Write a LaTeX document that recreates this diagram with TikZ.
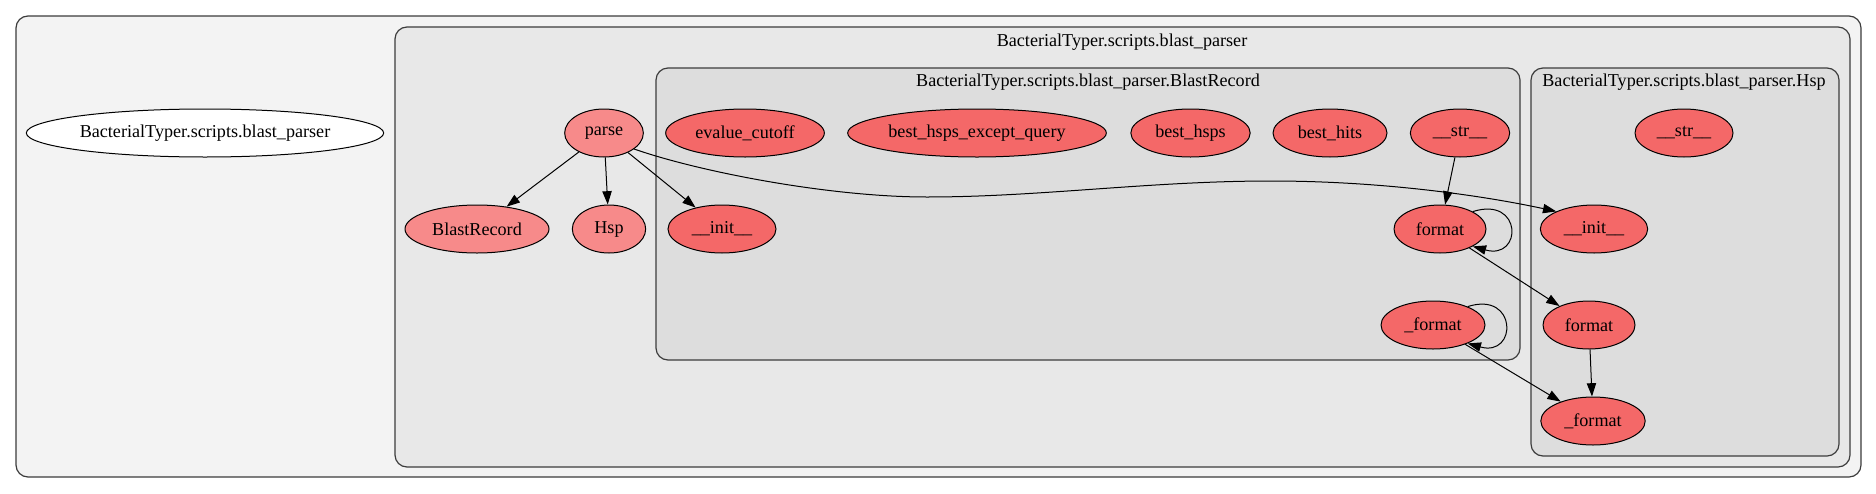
\documentclass[tikz,border=0pt]{standalone}
\usepackage{fontspec}
\setmainfont{Liberation Serif}
\usetikzlibrary{shapes.geometric,arrows.meta}

\definecolor{clouter}{HTML}{F3F3F3}
\definecolor{clmid}{HTML}{E8E8E8}
\definecolor{clinner}{HTML}{DDDDDD}
\definecolor{clline}{HTML}{3C3C3C}
\definecolor{fnred}{HTML}{F46868}
\definecolor{fnlight}{HTML}{F78A8A}

\begin{document}
\begin{tikzpicture}[
    x=0.75pt, y=-0.75pt,
    fn/.style={ellipse, draw, fill=#1, minimum height=36pt, inner sep=0pt, font=\fontsize{13.6}{16}\selectfont, line width=0.75pt},
    fn/.default=fnred,
    cluster/.style={draw=clline, fill=#1, rounded corners=9pt, line width=0.9pt},
    clbl/.style={font=\fontsize{13.6}{16}\selectfont, inner sep=0pt},
    edge/.style={-{Triangle[length=10pt, width=7pt]}, line width=0.75pt}
]
    \useasboundingbox (0,0) rectangle (1876,493);

    % Clusters
    \draw[cluster=clouter] (16,16) rectangle (1861,477);
    \draw[cluster=clmid] (395,27) rectangle (1850,467);
    \draw[cluster=clinner] (656,68) rectangle (1520,360);
    \draw[cluster=clinner] (1531,68) rectangle (1839,456);

    \node[clbl] (lmid) at (1122,42) {BacterialTyper.scripts.blast\_parser};
    \node[clbl] (lrec) at (1088,82) {BacterialTyper.scripts.blast\_parser.BlastRecord};
    \node[clbl] (lhsp) at (1684,82) {BacterialTyper.scripts.blast\_parser.Hsp};

    % Module
    \node[fn=white, minimum width=268pt] (root) at (205,133) {BacterialTyper.scripts.blast\_parser};
    \node[fn=fnlight, minimum width=59pt] (parse) at (604,133) {parse};
    \node[fn=fnlight, minimum width=108pt] (brec) at (477,229) {BlastRecord};
    \node[fn=fnlight, minimum width=55pt] (hsp) at (609,229) {Hsp};

    % BlastRecord
    \node[fn, minimum width=119pt] (bevalue) at (745,133) {evalue\_cutoff};
    \node[fn, minimum width=194pt] (bexcept) at (977,133) {best\_hsps\_except\_query};
    \node[fn, minimum width=89.5pt] (bhsps) at (1190.5,133) {best\_hsps};
    \node[fn, minimum width=85.5pt] (bhits) at (1330,133) {best\_hits};
    \node[fn, minimum width=74.5pt] (bstr) at (1460,133) {\_\_str\_\_};
    \node[fn, minimum width=81pt] (binit) at (722,229) {\_\_init\_\_};
    \node[fn, minimum width=69pt] (bfmt) at (1440,229) {format};
    \node[fn, minimum width=78pt] (bpfmt) at (1433,325) {\_format};

    % Hsp
    \node[fn, minimum width=73.5pt] (hstr) at (1684,133) {\_\_str\_\_};
    \node[fn, minimum width=80.5pt] (hinit) at (1594,229) {\_\_init\_\_};
    \node[fn, minimum width=69pt] (hfmt) at (1589,325) {format};
    \node[fn, minimum width=78.3pt] (hpfmt) at (1593,421) {\_format};

    % Calls
    \draw[edge] (parse) -- (brec);
    \draw[edge] (parse) -- (hsp);
    \draw[edge] (parse) -- (binit);
    \draw[edge] (parse.-28) .. controls (700,172) and (830,197) .. (927,197)
        .. controls (1040,197) and (1150,181) .. (1271,181)
        .. controls (1380,181) and (1480,195) .. (hinit.155);
    \draw[edge] (bstr) -- (bfmt);
    \draw[edge] (bfmt.28) .. controls +(50,-16) and +(50,14) .. (bfmt.-28);
    \draw[edge] (bfmt) -- (hfmt);
    \draw[edge] (bpfmt.28) .. controls +(50,-16) and +(50,14) .. (bpfmt.-28);
    \draw[edge] (bpfmt) -- (hpfmt);
    \draw[edge] (hfmt) -- (hpfmt);
\end{tikzpicture}
\end{document}
